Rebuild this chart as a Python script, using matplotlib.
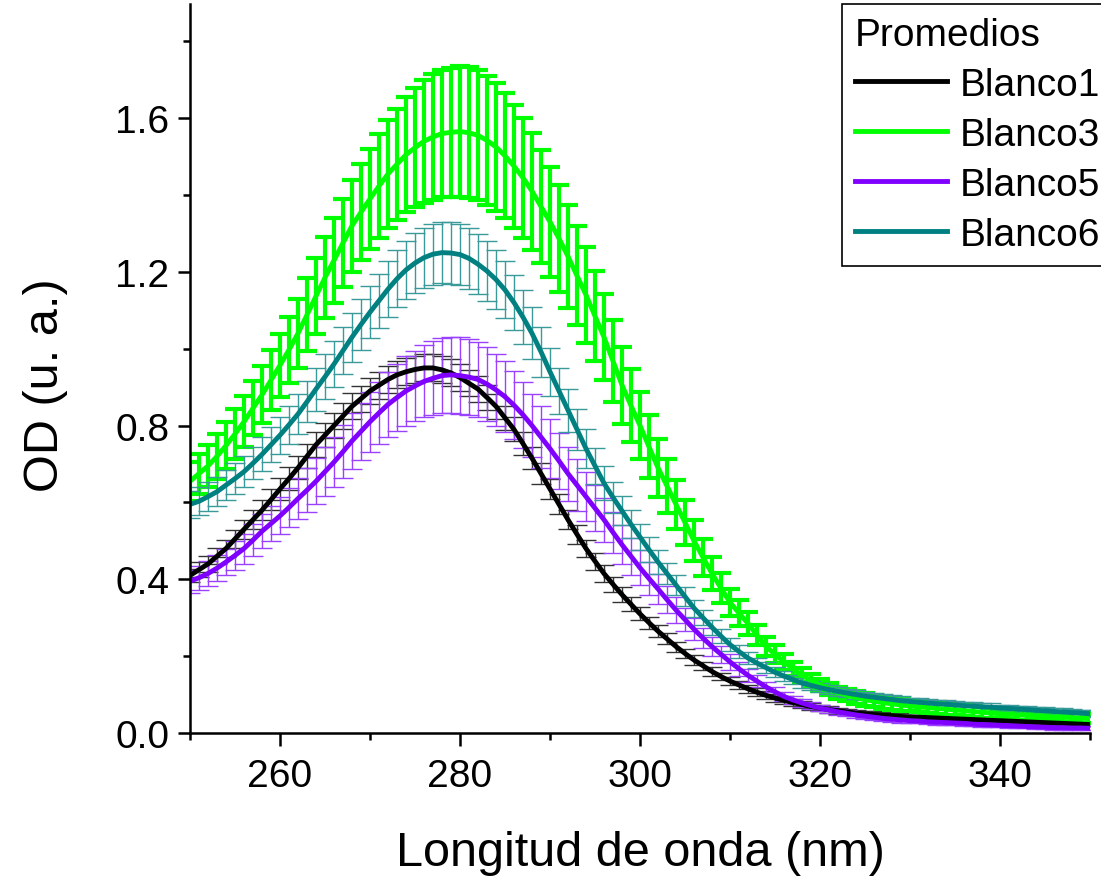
import matplotlib
matplotlib.use("Agg")
import matplotlib.pyplot as plt
from matplotlib.ticker import FixedLocator, MultipleLocator, FormatStrFormatter
import numpy as np

plt.rcParams['font.family'] = ['Liberation Sans', 'DejaVu Sans']

# longitud de onda, 250..350 nm cada 1 nm
wavelength = np.arange(250, 351)

blanco1 = [
    0.410, 0.425, 0.440, 0.460, 0.480, 0.505, 0.530, 0.555, 0.580, 0.607,
    0.635, 0.662, 0.690, 0.720, 0.750, 0.775, 0.800, 0.825, 0.850, 0.870,
    0.890, 0.905, 0.920, 0.932, 0.940, 0.946, 0.950, 0.950, 0.945, 0.937,
    0.925, 0.910, 0.895, 0.873, 0.850, 0.820, 0.790, 0.753, 0.715, 0.675,
    0.635, 0.595, 0.555, 0.517, 0.480, 0.447, 0.415, 0.387, 0.360, 0.335,
    0.310, 0.287, 0.265, 0.245, 0.225, 0.207, 0.190, 0.175, 0.160, 0.147,
    0.135, 0.125, 0.115, 0.106, 0.098, 0.091, 0.085, 0.079, 0.074, 0.069,
    0.065, 0.061, 0.058, 0.055, 0.052, 0.050, 0.048, 0.046, 0.045, 0.043,
    0.042, 0.041, 0.040, 0.039, 0.038, 0.037, 0.036, 0.035, 0.034, 0.033,
    0.032, 0.031, 0.030, 0.029, 0.028, 0.027, 0.026, 0.025, 0.024, 0.023,
    0.022,
]
blanco1_err = [
    0.018, 0.019, 0.020, 0.021, 0.022, 0.023, 0.024, 0.025, 0.026, 0.027,
    0.028, 0.029, 0.030, 0.031, 0.032, 0.032, 0.033, 0.033, 0.034, 0.034,
    0.035, 0.035, 0.035, 0.035, 0.035, 0.035, 0.035, 0.035, 0.035, 0.035,
    0.035, 0.034, 0.034, 0.033, 0.033, 0.032, 0.031, 0.030, 0.029, 0.028,
    0.027, 0.026, 0.025, 0.024, 0.023, 0.022, 0.021, 0.020, 0.019, 0.018,
    0.017, 0.016, 0.015, 0.014, 0.013, 0.012, 0.012, 0.011, 0.011, 0.010,
    0.010, 0.010, 0.010, 0.010, 0.010, 0.010, 0.010, 0.010, 0.010, 0.010,
    0.008, 0.008, 0.008, 0.008, 0.008, 0.008, 0.008, 0.008, 0.008, 0.008,
    0.006, 0.006, 0.006, 0.006, 0.006, 0.006, 0.006, 0.006, 0.006, 0.006,
    0.005, 0.005, 0.005, 0.005, 0.005, 0.005, 0.005, 0.005, 0.005, 0.005,
    0.005,
]

blanco3 = [
    0.655, 0.675, 0.695, 0.720, 0.748, 0.778, 0.810, 0.845, 0.880, 0.918,
    0.957, 0.997, 1.040, 1.088, 1.137, 1.185, 1.230, 1.275, 1.320, 1.355,
    1.390, 1.423, 1.455, 1.480, 1.505, 1.523, 1.540, 1.551, 1.560, 1.563,
    1.565, 1.562, 1.555, 1.542, 1.525, 1.502, 1.475, 1.445, 1.410, 1.370,
    1.330, 1.287, 1.240, 1.190, 1.140, 1.085, 1.030, 0.968, 0.905, 0.852,
    0.800, 0.745, 0.690, 0.643, 0.595, 0.548, 0.500, 0.457, 0.415, 0.377,
    0.340, 0.312, 0.285, 0.255, 0.225, 0.205, 0.185, 0.167, 0.150, 0.137,
    0.125, 0.115, 0.105, 0.098, 0.092, 0.087, 0.083, 0.079, 0.076, 0.073,
    0.070, 0.068, 0.066, 0.064, 0.062, 0.060, 0.058, 0.056, 0.054, 0.052,
    0.050, 0.049, 0.047, 0.046, 0.045, 0.043, 0.042, 0.041, 0.040, 0.039,
    0.037,
]
blanco3_err = [
    0.050, 0.052, 0.055, 0.058, 0.061, 0.064, 0.067, 0.070, 0.074, 0.078,
    0.082, 0.086, 0.090, 0.095, 0.100, 0.105, 0.110, 0.115, 0.120, 0.125,
    0.130, 0.135, 0.140, 0.145, 0.150, 0.155, 0.160, 0.163, 0.166, 0.168,
    0.170, 0.170, 0.169, 0.168, 0.166, 0.163, 0.160, 0.156, 0.152, 0.148,
    0.144, 0.139, 0.134, 0.129, 0.124, 0.118, 0.112, 0.106, 0.100, 0.094,
    0.088, 0.082, 0.076, 0.070, 0.064, 0.058, 0.053, 0.048, 0.044, 0.040,
    0.036, 0.033, 0.030, 0.027, 0.025, 0.023, 0.021, 0.019, 0.018, 0.017,
    0.016, 0.016, 0.016, 0.016, 0.016, 0.016, 0.016, 0.016, 0.016, 0.016,
    0.014, 0.014, 0.014, 0.014, 0.014, 0.014, 0.014, 0.014, 0.014, 0.014,
    0.012, 0.012, 0.012, 0.012, 0.012, 0.012, 0.012, 0.012, 0.012, 0.012,
    0.012,
]

blanco5 = [
    0.395, 0.404, 0.415, 0.429, 0.445, 0.462, 0.480, 0.502, 0.525, 0.545,
    0.565, 0.587, 0.610, 0.632, 0.655, 0.680, 0.705, 0.732, 0.760, 0.785,
    0.810, 0.833, 0.855, 0.873, 0.890, 0.903, 0.915, 0.923, 0.930, 0.932,
    0.930, 0.926, 0.920, 0.908, 0.893, 0.875, 0.853, 0.828, 0.800, 0.770,
    0.740, 0.708, 0.675, 0.645, 0.615, 0.585, 0.555, 0.522, 0.490, 0.460,
    0.430, 0.402, 0.375, 0.347, 0.320, 0.295, 0.270, 0.247, 0.225, 0.205,
    0.185, 0.167, 0.150, 0.135, 0.120, 0.107, 0.095, 0.086, 0.078, 0.071,
    0.065, 0.060, 0.055, 0.051, 0.047, 0.044, 0.041, 0.038, 0.036, 0.034,
    0.032, 0.031, 0.029, 0.028, 0.027, 0.026, 0.025, 0.023, 0.022, 0.021,
    0.020, 0.019, 0.018, 0.017, 0.016, 0.015, 0.014, 0.014, 0.013, 0.013,
    0.012,
]
blanco5_err = [
    0.030, 0.031, 0.032, 0.033, 0.035, 0.037, 0.039, 0.041, 0.044, 0.046,
    0.048, 0.051, 0.054, 0.057, 0.060, 0.063, 0.066, 0.069, 0.072, 0.075,
    0.078, 0.081, 0.084, 0.087, 0.090, 0.092, 0.094, 0.096, 0.098, 0.099,
    0.100, 0.099, 0.098, 0.096, 0.094, 0.092, 0.089, 0.086, 0.083, 0.080,
    0.077, 0.073, 0.070, 0.067, 0.063, 0.060, 0.057, 0.054, 0.051, 0.048,
    0.045, 0.042, 0.039, 0.036, 0.033, 0.030, 0.028, 0.026, 0.024, 0.022,
    0.020, 0.018, 0.016, 0.015, 0.014, 0.013, 0.012, 0.011, 0.010, 0.009,
    0.008, 0.008, 0.008, 0.008, 0.008, 0.008, 0.008, 0.008, 0.008, 0.008,
    0.006, 0.006, 0.006, 0.006, 0.006, 0.006, 0.006, 0.006, 0.006, 0.006,
    0.005, 0.005, 0.005, 0.005, 0.005, 0.005, 0.005, 0.005, 0.005, 0.005,
    0.005,
]

blanco6 = [
    0.595, 0.603, 0.615, 0.628, 0.645, 0.662, 0.680, 0.702, 0.725, 0.750,
    0.775, 0.802, 0.830, 0.862, 0.895, 0.927, 0.960, 0.995, 1.030, 1.063,
    1.095, 1.125, 1.155, 1.182, 1.205, 1.223, 1.237, 1.246, 1.250, 1.249,
    1.245, 1.235, 1.220, 1.202, 1.180, 1.153, 1.120, 1.082, 1.040, 0.992,
    0.940, 0.890, 0.840, 0.790, 0.740, 0.695, 0.650, 0.613, 0.578, 0.543,
    0.510, 0.477, 0.445, 0.415, 0.385, 0.355, 0.325, 0.300, 0.275, 0.252,
    0.230, 0.212, 0.195, 0.182, 0.170, 0.158, 0.148, 0.139, 0.130, 0.124,
    0.118, 0.113, 0.108, 0.104, 0.100, 0.096, 0.093, 0.090, 0.087, 0.084,
    0.082, 0.080, 0.078, 0.076, 0.075, 0.073, 0.071, 0.070, 0.068, 0.067,
    0.065, 0.064, 0.062, 0.061, 0.059, 0.058, 0.056, 0.055, 0.053, 0.052,
    0.050,
]
blanco6_err = [
    0.035, 0.036, 0.037, 0.038, 0.039, 0.040, 0.041, 0.042, 0.044, 0.046,
    0.048, 0.050, 0.052, 0.054, 0.056, 0.058, 0.060, 0.062, 0.064, 0.066,
    0.068, 0.070, 0.072, 0.074, 0.076, 0.077, 0.078, 0.079, 0.080, 0.080,
    0.080, 0.079, 0.078, 0.077, 0.076, 0.074, 0.072, 0.070, 0.068, 0.065,
    0.062, 0.059, 0.056, 0.053, 0.050, 0.047, 0.044, 0.041, 0.038, 0.036,
    0.034, 0.032, 0.030, 0.028, 0.026, 0.024, 0.022, 0.020, 0.019, 0.018,
    0.017, 0.016, 0.015, 0.014, 0.014, 0.013, 0.013, 0.012, 0.012, 0.012,
    0.011, 0.011, 0.011, 0.011, 0.011, 0.011, 0.011, 0.011, 0.011, 0.011,
    0.010, 0.010, 0.010, 0.010, 0.010, 0.010, 0.010, 0.010, 0.010, 0.010,
    0.009, 0.009, 0.009, 0.009, 0.009, 0.009, 0.009, 0.009, 0.009, 0.009,
    0.009,
]

labels = ['Blanco1', 'Blanco3', 'Blanco5', 'Blanco6']
colors = ['#000000', '#00ff00', '#8000ff', '#008080']
err_colors = ['#333333', '#00ff00', '#9a40ff', '#3a9a9a']

fig = plt.figure(figsize=(11.01, 8.79), dpi=100)
ax = fig.add_axes([190 / 1101, 145 / 879, 900 / 1101, 729 / 879])

series = [(blanco1, blanco1_err), (blanco3, blanco3_err),
          (blanco5, blanco5_err), (blanco6, blanco6_err)]
handles = []
for (y, e), lab, c, ec in zip(series, labels, colors, err_colors):
    thick = (lab == 'Blanco3')
    eb = ax.errorbar(wavelength, y, yerr=e, color=c, ecolor=ec, lw=3.5,
                     elinewidth=3 if thick else 1.0,
                     capsize=7, capthick=3 if thick else 1.0,
                     label=lab)
    handles.append(eb.lines[0])

ax.set_xlim(250, 350)
ax.set_ylim(0, 1.897)

ax.xaxis.set_major_locator(FixedLocator([260, 280, 300, 320, 340]))
ax.xaxis.set_minor_locator(MultipleLocator(10))
ax.yaxis.set_major_locator(MultipleLocator(0.4))
ax.yaxis.set_minor_locator(MultipleLocator(0.2))
ax.yaxis.set_major_formatter(FormatStrFormatter('%.1f'))

for side in ['top', 'right']:
    ax.spines[side].set_visible(False)
for side in ['left', 'bottom']:
    ax.spines[side].set_linewidth(1.8)

ax.tick_params(which='major', direction='out', length=9, width=1.8,
               labelsize=28, pad=6)
ax.tick_params(axis='x', which='major', pad=9)
ax.tick_params(which='minor', direction='out', length=5, width=1.8)

ax.set_xlabel('Longitud de onda (nm)', fontsize=35, labelpad=26)
ax.set_ylabel('OD (u. a.)', fontsize=35)
ax.yaxis.set_label_coords(-0.135, 0.479)

leg = fig.legend(handles, labels, title='Promedios', loc='upper left',
                 bbox_to_anchor=(842 / 1101, 1 - 5 / 879), borderaxespad=0,
                 fontsize=28, title_fontsize=28, fancybox=False,
                 edgecolor='black', framealpha=1, handlelength=2.37,
                 handletextpad=0.33, labelspacing=0.36, borderpad=0.33,
                 alignment='left')
leg.get_frame().set_linewidth(1.2)

plt.savefig('out.png', dpi=100)
